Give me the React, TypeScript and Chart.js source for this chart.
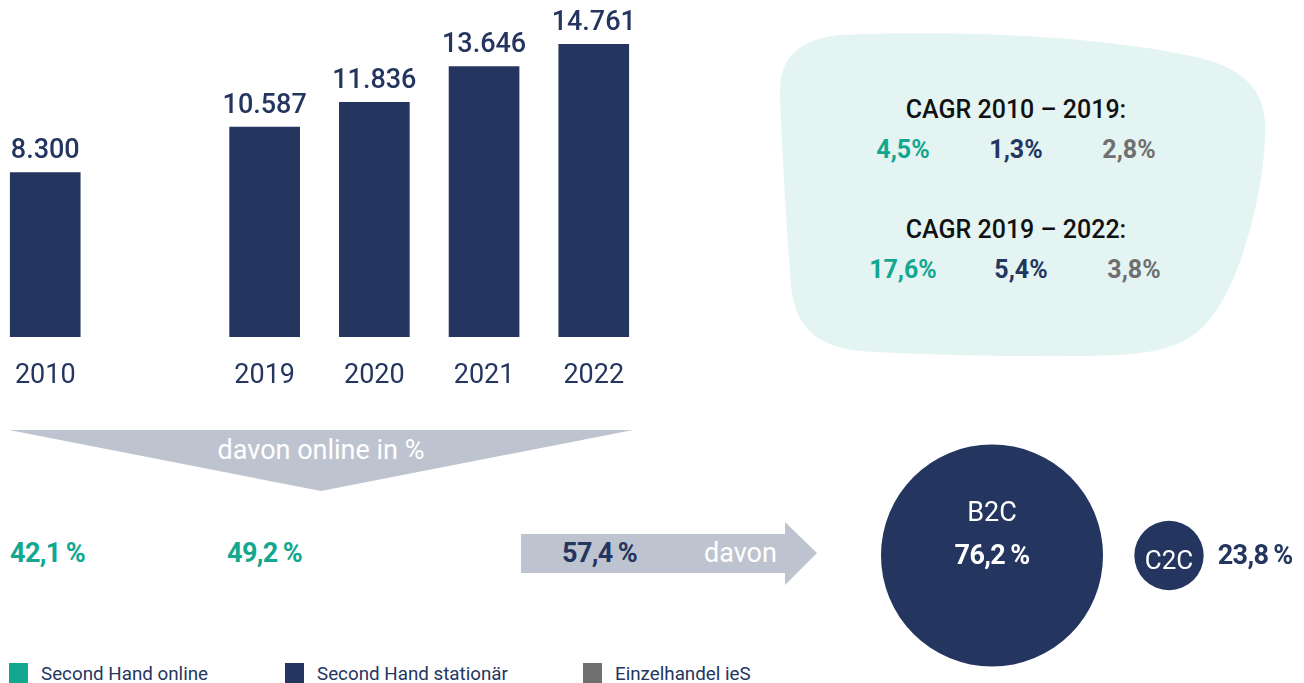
import React, { useEffect, useRef } from 'react';
import { Chart, registerables } from 'chart.js';

Chart.register(...registerables);

// ---------- data ----------
const years = ['2010', '', '2019', '2020', '2021', '2022'];
const salesMioEur = [8300, null, 10587, 11836, 13646, 14761];
const onlineShareYears = ['2010', '2019', '2022'];
const onlineShares = ['42,1\u2009%', '49,2\u2009%', '57,4\u2009%'];
const segments = ['B2C', 'C2C'];
const segmentShares = [76.2, 23.8];
const cagrTitles = ['CAGR 2010 – 2019:', 'CAGR 2019 – 2022:'];
const cagrOnline = ['4,5%', '17,6%'];
const cagrStationary = ['1,3%', '5,4%'];
const cagrRetail = ['2,8%', '3,8%'];
const legendLabels = ['Second Hand online', 'Second Hand stationär', 'Einzelhandel ieS'];

// ---------- styles ----------
const NAVY = '#24365f';
const TEAL = '#12a78f';
const GRAY = '#6f6f6f';
const ARROW_GRAY = '#bec4cf';
const BLOB = '#e4f4f2';
const FONT = 'Roboto, "Noto Sans", sans-serif';
const legendColors = [TEAL, NAVY, GRAY];
const RADIUS_PER_PCT = 1.457;

Chart.defaults.font.family = FONT;

const fmtInt = new Intl.NumberFormat('de-DE');
const fmtPct = new Intl.NumberFormat('de-DE', { minimumFractionDigits: 1, maximumFractionDigits: 1 });

function BarChart() {
  const ref = useRef<HTMLCanvasElement>(null);
  useEffect(() => {
    const valueLabels = {
      id: 'valueLabels',
      afterDatasetsDraw(chart: any) {
        const { ctx } = chart;
        const meta = chart.getDatasetMeta(0);
        ctx.save();
        ctx.font = `500 27px ${FONT}`;
        ctx.fillStyle = NAVY;
        ctx.textAlign = 'center';
        ctx.textBaseline = 'alphabetic';
        meta.data.forEach((el: any, i: number) => {
          const v = salesMioEur[i];
          if (v == null) return;
          ctx.fillText(fmtInt.format(v), el.x, el.y - 14);
        });
        ctx.restore();
      },
    };
    const chart = new Chart(ref.current as HTMLCanvasElement, {
      type: 'bar',
      data: {
        labels: years,
        datasets: [
          {
            data: salesMioEur as any,
            backgroundColor: NAVY,
            borderWidth: 0,
            barThickness: 70,
          },
        ],
      },
      options: {
        animation: false,
        responsive: true,
        maintainAspectRatio: false,
        layout: { padding: 0 },
        events: [],
        plugins: { legend: { display: false }, tooltip: { enabled: false } },
        scales: {
          x: {
            grid: { display: false, drawTicks: false },
            border: { display: false },
            ticks: {
              color: NAVY,
              font: { family: FONT, size: 27, lineHeight: 1 },
              padding: 26,
              maxRotation: 0,
              minRotation: 0,
              autoSkip: false,
            },
          },
          y: { display: false, min: 0, max: 17000 },
        },
      },
      plugins: [valueLabels],
    });
    return () => chart.destroy();
  }, []);
  return (
    <div style={{ position: 'absolute', left: -11, top: 0, width: 661, height: 416 }}>
      <canvas ref={ref} />
    </div>
  );
}

function BubbleChart() {
  const ref = useRef<HTMLCanvasElement>(null);
  useEffect(() => {
    const bubbleLabels = {
      id: 'bubbleLabels',
      afterDatasetsDraw(chart: any) {
        const { ctx } = chart;
        const meta = chart.getDatasetMeta(0);
        const big = meta.data[0];
        const small = meta.data[1];
        ctx.save();
        ctx.textBaseline = 'alphabetic';
        ctx.textAlign = 'center';
        ctx.fillStyle = '#ffffff';
        ctx.font = `400 27px ${FONT}`;
        ctx.fillText(segments[0], big.x, big.y - 35);
        ctx.font = `700 27px ${FONT}`;
        (ctx as any).letterSpacing = '-0.6px';
        ctx.fillText(fmtPct.format(segmentShares[0]) + '\u2009%', big.x, big.y + 8);
        (ctx as any).letterSpacing = '0px';
        ctx.font = `400 26px ${FONT}`;
        ctx.fillText(segments[1], small.x, small.y + 13);
        ctx.textAlign = 'left';
        ctx.fillStyle = NAVY;
        ctx.font = `700 27px ${FONT}`;
        (ctx as any).letterSpacing = '-0.6px';
        ctx.fillText(
          fmtPct.format(segmentShares[1]) + '\u2009%',
          small.x + small.options.radius + 14,
          small.y + 8
        );
        ctx.restore();
      },
    };
    const chart = new Chart(ref.current as HTMLCanvasElement, {
      type: 'bubble',
      data: {
        labels: segments,
        datasets: [
          {
            data: segments.map((s, i) => ({ x: s, y: 0, r: segmentShares[i] * RADIUS_PER_PCT })) as any,
            backgroundColor: NAVY,
            borderWidth: 0,
            clip: false as any,
          },
        ],
      },
      options: {
        animation: false,
        responsive: true,
        maintainAspectRatio: false,
        events: [],
        layout: { autoPadding: false, padding: { left: 53.5, right: 46.5, top: 0, bottom: 0 } },
        plugins: { legend: { display: false }, tooltip: { enabled: false } },
        scales: {
          x: { type: 'category', display: false, offset: true },
          y: { type: 'linear', display: false, min: -1, max: 1 },
        },
      },
      plugins: [bubbleLabels],
    });
    return () => chart.destroy();
  }, []);
  return (
    <div style={{ position: 'absolute', left: 850, top: 430, width: 454, height: 251 }}>
      <canvas ref={ref} />
    </div>
  );
}

type TProps = {
  x: number;
  cy: number;
  size: number;
  weight?: number;
  color: string;
  middle?: boolean;
  spacing?: number;
  children: React.ReactNode;
};

function T({ x, cy, size, weight = 400, color, middle, spacing, children }: TProps) {
  return (
    <div
      style={{
        position: 'absolute',
        left: x,
        top: cy - size,
        lineHeight: `${size * 2}px`,
        height: size * 2,
        fontSize: size,
        fontWeight: weight,
        color,
        fontFamily: FONT,
        whiteSpace: 'nowrap',
        letterSpacing: spacing != null ? `${spacing}px` : undefined,
        transform: middle ? 'translateX(-50%)' : undefined,
      }}
    >
      {children}
    </div>
  );
}

export default function App() {
  const cagrX = [903, 1016, 1129];
  const cagrX2 = [903, 1021, 1134];
  return (
    <div
      style={{
        position: 'absolute',
        left: 0,
        top: 0,
        width: 1304,
        height: 683,
        overflow: 'hidden',
        background: '#ffffff',
        fontFamily: FONT,
      }}
    >
      <svg width={1304} height={683} style={{ position: 'absolute', left: 0, top: 0 }}>
        <path
          d="M 780 95 C 779 60, 795 40, 840 35 C 950 30, 1100 35, 1200 58 C 1255 72, 1268 100, 1265 140 C 1262 200, 1240 280, 1213 315 C 1195 340, 1170 352, 1120 355 C 1040 358, 920 355, 860 351 C 810 346, 794 320, 791 285 C 786 220, 782 150, 780 95 Z"
          fill={BLOB}
        />
        <polygon points="9,430 633,430 321,491" fill={ARROW_GRAY} />
        <polygon points="521,534 785,534 785,522 817,553 785,585 785,573 521,573" fill={ARROW_GRAY} />
      </svg>

      <BarChart />
      <BubbleChart />

      <T x={321} cy={450} size={27} color="#ffffff" middle>
        davon online in %
      </T>

      {/* online shares for 2010, 2019, 2022 */}
      <T x={10} cy={553} size={27} weight={700} color={TEAL} spacing={-0.6}>
        {onlineShares[0]}
      </T>
      <T x={227} cy={553} size={27} weight={700} color={TEAL} spacing={-0.6}>
        {onlineShares[1]}
      </T>
      <T x={562} cy={553} size={27} weight={700} color={NAVY} spacing={-0.6}>
        {onlineShares[2]}
      </T>
      <T x={704} cy={553} size={27} color="#ffffff">
        davon
      </T>

      {/* CAGR box */}
      <T x={1016} cy={110} size={25} weight={500} color="#111111" middle>
        {cagrTitles[0]}
      </T>
      <T x={cagrX[0]} cy={150} size={25} weight={700} color={TEAL} middle>
        {cagrOnline[0]}
      </T>
      <T x={cagrX[1]} cy={150} size={25} weight={700} color={NAVY} middle>
        {cagrStationary[0]}
      </T>
      <T x={cagrX[2]} cy={150} size={25} weight={700} color={GRAY} middle>
        {cagrRetail[0]}
      </T>
      <T x={1016} cy={230} size={25} weight={500} color="#111111" middle>
        {cagrTitles[1]}
      </T>
      <T x={cagrX2[0]} cy={270} size={25} weight={700} color={TEAL} middle>
        {cagrOnline[1]}
      </T>
      <T x={cagrX2[1]} cy={270} size={25} weight={700} color={NAVY} middle>
        {cagrStationary[1]}
      </T>
      <T x={cagrX2[2]} cy={270} size={25} weight={700} color={GRAY} middle>
        {cagrRetail[1]}
      </T>

      {/* legend */}
      {legendLabels.map((label, i) => {
        const sx = [9, 285, 583][i];
        return (
          <React.Fragment key={label}>
            <div
              style={{
                position: 'absolute',
                left: sx,
                top: 663,
                width: 19,
                height: 20,
                background: legendColors[i],
              }}
            />
            <T x={sx + 32} cy={675} size={18.8} color={NAVY}>
              {label}
            </T>
          </React.Fragment>
        );
      })}
    </div>
  );
}
